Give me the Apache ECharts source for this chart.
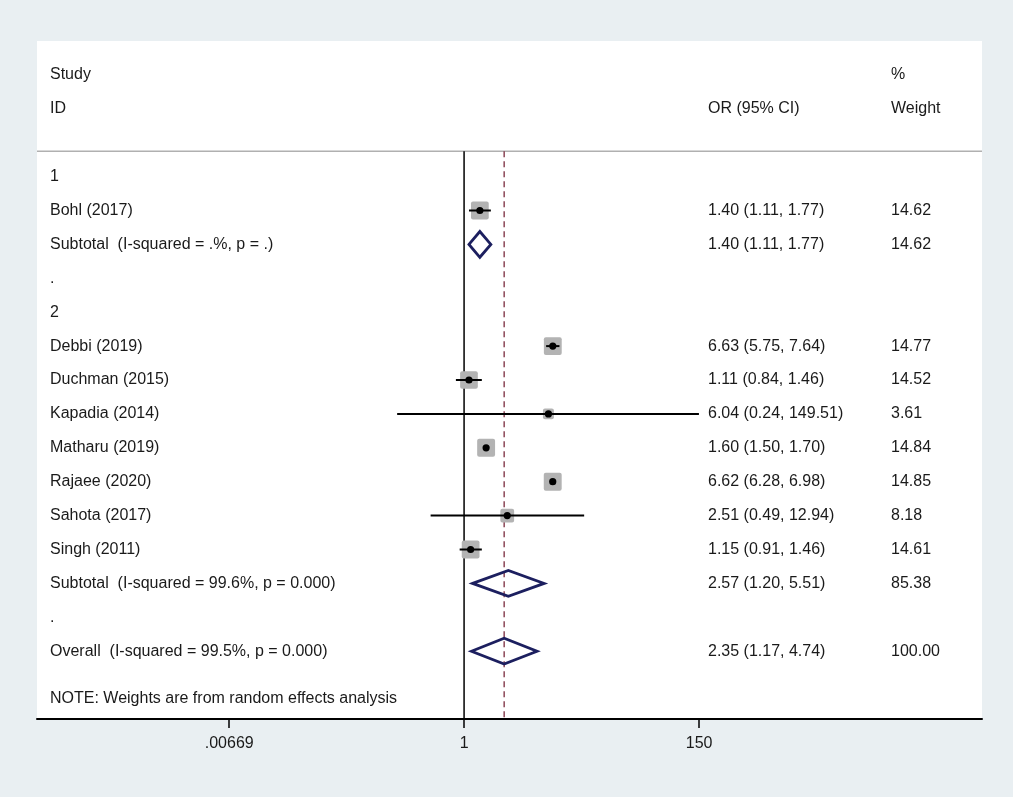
<!DOCTYPE html>
<html>
<head>
<meta charset="utf-8">
<script src="https://cdn.jsdelivr.net/npm/echarts@6/dist/echarts.min.js"></script>
<style>
  html, body { margin: 0; padding: 0; background: #e9eff2; }
  #main { width: 1013px; height: 797px; }
</style>
</head>
<body>
<div id="main"></div>
<script>
// rows top to bottom (row index = position in this list)
var rowLabels = ['1', 'Bohl (2017)', 'Subtotal  (I-squared = .%, p = .)', '.', '2',
  'Debbi (2019)', 'Duchman (2015)', 'Kapadia (2014)', 'Matharu (2019)', 'Rajaee (2020)',
  'Sahota (2017)', 'Singh (2011)', 'Subtotal  (I-squared = 99.6%, p = 0.000)', '.',
  'Overall  (I-squared = 99.5%, p = 0.000)'];

// individual studies
var studyRows   = [1, 5, 6, 7, 8, 9, 10, 11];
var studyOR     = [1.40, 6.63, 1.11, 6.04, 1.60, 6.62, 2.51, 1.15];
var studyLo     = [1.11, 5.75, 0.84, 0.24, 1.50, 6.28, 0.49, 0.91];
var studyHi     = [1.77, 7.64, 1.46, 149.51, 1.70, 6.98, 12.94, 1.46];
var studyWeight = [14.62, 14.77, 14.52, 3.61, 14.84, 14.85, 8.18, 14.61];

// pooled estimates (subtotals, overall)
var poolRows   = [2, 12, 14];
var poolOR     = [1.40, 2.57, 2.35];
var poolLo     = [1.11, 1.20, 1.17];
var poolHi     = [1.77, 5.51, 4.74];
var poolWeight = [14.62, 85.38, 100.00];

var overallOR = 2.35;
var tickValues = [0.00669, 1, 150];
var tickLabels = ['.00669', '1', '150'];

var FONT = '"Liberation Sans", Arial, sans-serif';
var FSIZE = 16;
var TXT = '#1a1a1a';

// 文字表格的数据：[列, 行, 文本]
var textData = [];
rowLabels.forEach(function (t, i) { textData.push([0, i, t]); });
function fmt(v) { return v.toFixed(2); }
for (var i = 0; i < studyRows.length; i++) {
  textData.push([1, studyRows[i], fmt(studyOR[i]) + ' (' + fmt(studyLo[i]) + ', ' + fmt(studyHi[i]) + ')']);
  textData.push([2, studyRows[i], fmt(studyWeight[i])]);
}
for (var j = 0; j < poolRows.length; j++) {
  textData.push([1, poolRows[j], fmt(poolOR[j]) + ' (' + fmt(poolLo[j]) + ', ' + fmt(poolHi[j]) + ')']);
  textData.push([2, poolRows[j], fmt(poolWeight[j])]);
}
// header + note
textData.push([0, -3, 'Study'], [0, -2, 'ID'], [1, -2, 'OR (95% CI)'], [2, -3, '%'], [2, -2, 'Weight']);
textData.push([0, 15.4, 'NOTE: Weights are from random effects analysis']);
var colX = [50, 708, 891];

var studyData = studyRows.map(function (r, i) {
  return [studyOR[i], r, studyLo[i], studyHi[i], studyWeight[i]];
});
var poolData = poolRows.map(function (r, i) {
  return [poolOR[i], r, poolLo[i], poolHi[i]];
});

var myChart = echarts.init(document.getElementById('main'));

var option = {
  backgroundColor: '#e9eff2',
  animation: false,
  grid: { left: 37, right: 31, top: 41, bottom: 78, show: true, backgroundColor: '#ffffff', borderWidth: 0 },
  xAxis: {
    type: 'log',
    logBase: 10,
    min: 1.11e-4,
    max: 62500,
    splitLine: { show: false },
    axisLine: { show: true, onZero: false, lineStyle: { color: '#000', width: 2 } },
    axisTick: { show: true, length: 9, lineStyle: { color: '#000', width: 1.5 }, customValues: tickValues },
    axisLabel: {
      customValues: tickValues,
      margin: 17,
      color: TXT,
      fontFamily: FONT,
      fontSize: FSIZE,
      formatter: function (v) {
        for (var k = 0; k < tickValues.length; k++) {
          if (Math.abs(Math.log10(v) - Math.log10(tickValues[k])) < 1e-6) return tickLabels[k];
        }
        return '';
      }
    }
  },
  yAxis: {
    type: 'value', inverse: true, min: -4, max: 16, show: false
  },
  series: [
    {
      // 表头分隔线、无效线、总体效应虚线
      type: 'custom',
      data: [[0]],
      silent: true,
      renderItem: function (params, api) {
        var top = api.coord([1, -0.75])[1];
        var bot = api.coord([1, 16])[1];
        var x1 = api.coord([1, 0])[0];
        var xo = api.coord([overallOR, 0])[0];
        return {
          type: 'group',
          children: [
            { type: 'line', shape: { x1: params.coordSys.x, y1: top, x2: params.coordSys.x + params.coordSys.width, y2: top },
              style: { stroke: '#b0b0b0', lineWidth: 1.5 } },
            { type: 'line', shape: { x1: x1, y1: top, x2: x1, y2: bot },
              style: { stroke: '#000', lineWidth: 1.5 } },
            { type: 'line', shape: { x1: xo, y1: top, x2: xo, y2: bot },
              style: { stroke: '#7a2a3c', lineWidth: 1.3, lineDash: [6, 4] } }
          ]
        };
      }
    },
    {
      // 各研究：灰色方块 + 置信区间 + 点
      type: 'custom',
      data: studyData,
      silent: true,
      renderItem: function (params, api) {
        var c = api.coord([api.value(0), api.value(1)]);
        var lo = api.coord([api.value(2), api.value(1)]);
        var hi = api.coord([api.value(3), api.value(1)]);
        var s = 8.7 + 0.62 * api.value(4);
        return {
          type: 'group',
          children: [
            { type: 'rect', shape: { x: c[0] - s / 2, y: c[1] - s / 2, width: s, height: s, r: 2 },
              style: { fill: '#b3b3b3' } },
            { type: 'line', shape: { x1: lo[0], y1: c[1], x2: hi[0], y2: c[1] },
              style: { stroke: '#000', lineWidth: 2 } },
            { type: 'circle', shape: { cx: c[0], cy: c[1], r: 3.6 }, style: { fill: '#000' } }
          ]
        };
      }
    },
    {
      // 合并效应菱形
      type: 'custom',
      data: poolData,
      silent: true,
      renderItem: function (params, api) {
        var r = api.value(1);
        var pTop = api.coord([api.value(0), r - 0.38]);
        var pBot = api.coord([api.value(0), r + 0.38]);
        var pLo = api.coord([api.value(2), r]);
        var pHi = api.coord([api.value(3), r]);
        return {
          type: 'polygon',
          shape: { points: [pLo, pTop, pHi, pBot] },
          style: { fill: 'none', stroke: '#1c1f5f', lineWidth: 2.8 }
        };
      }
    },
    {
      // 文字列
      type: 'custom',
      data: textData,
      silent: true,
      renderItem: function (params, api) {
        var item = textData[params.dataIndex];
        var y = api.coord([1, item[1]])[1];
        return {
          type: 'text',
          style: {
            x: colX[item[0]], y: y, text: item[2],
            fill: TXT, font: FSIZE + 'px ' + FONT,
            textAlign: 'left', textVerticalAlign: 'middle'
          }
        };
      }
    }
  ]
};

myChart.setOption(option);
</script>
</body>
</html>
